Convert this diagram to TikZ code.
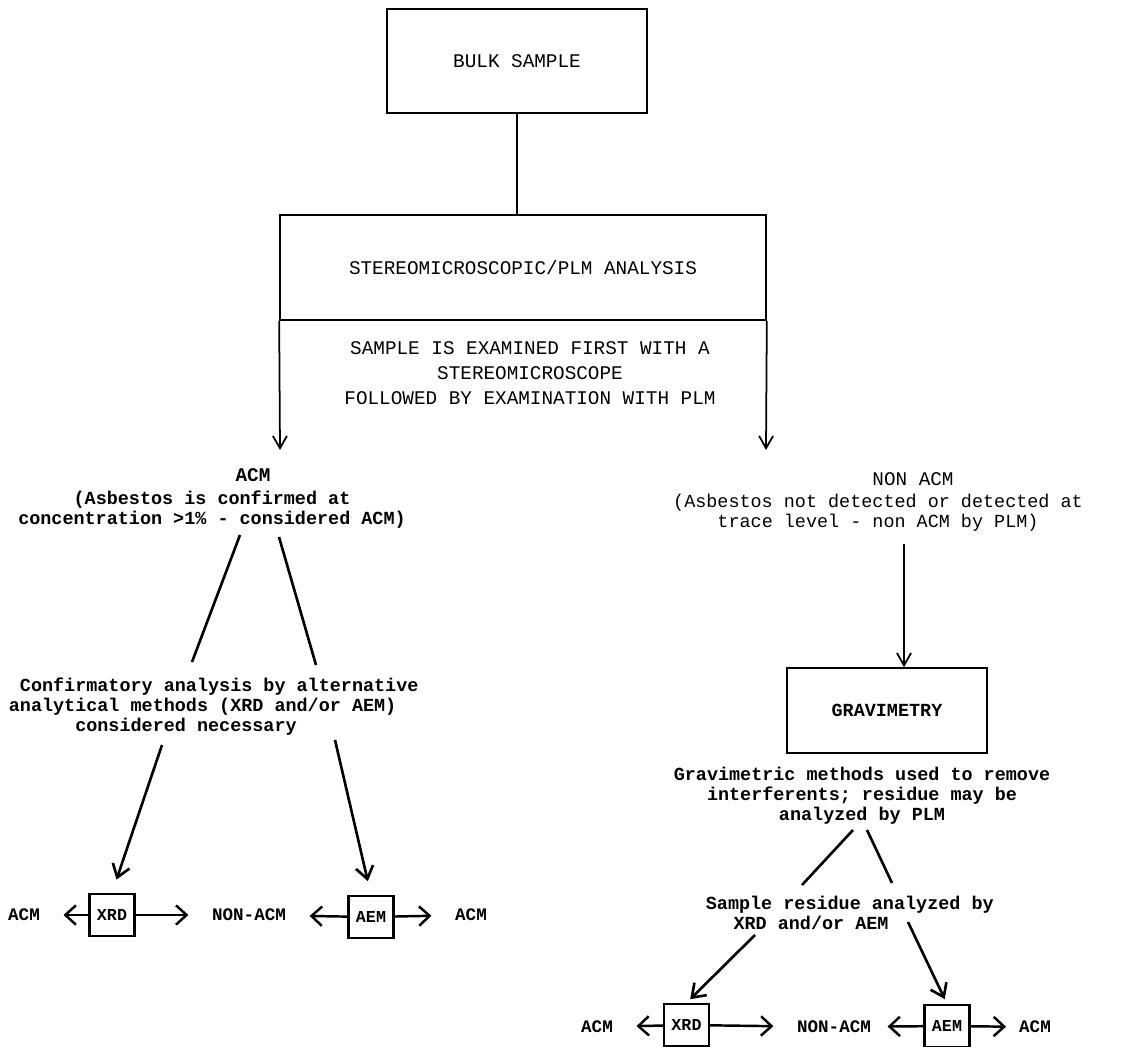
\documentclass[tikz,border=0pt]{standalone}
\usepackage{fontspec}
\setmonofont{Liberation Mono}
\usetikzlibrary{arrows.meta}

\begin{document}
\begin{tikzpicture}[x=0.02cm,y=-0.02cm,>={Straight Barb[length=7pt,width=8pt]},line width=1pt,
    main box/.style={rectangle,draw,inner sep=0pt,font=\ttfamily\fontsize{11}{14}\selectfont},
    small box/.style={rectangle,draw,inner sep=0pt,minimum width=0.9cm,minimum height=0.84cm,line width=1.3pt,font=\ttfamily\bfseries\fontsize{9.5}{11}\selectfont},
    plain/.style={inner sep=0pt,align=center,font=\ttfamily\fontsize{11}{14.2}\selectfont},
    note/.style={inner sep=0pt,align=center,font=\ttfamily\fontsize{10.5}{11.4}\selectfont},
    bold note/.style={note,font=\ttfamily\bfseries\fontsize{10.5}{11.4}\selectfont},
    result/.style={inner sep=0pt,font=\ttfamily\bfseries\fontsize{10}{12}\selectfont},
    heavy/.style={line width=1.5pt},
    down/.style={-{Straight Barb[length=7pt,width=10pt]},heavy},
    side/.style={-{Straight Barb[length=6pt,width=11pt]},line width=1.4pt,shorten >=13pt}]
    \useasboundingbox (0,0) rectangle (1147,1047);

    % top of the chart
    \node[main box,minimum width=5.2cm,minimum height=2.08cm] (bulk) at (517,61) {BULK SAMPLE};
    \node[main box,minimum width=9.72cm,minimum height=2.1cm] (plm) at (523,267.5) {STEREOMICROSCOPIC/PLM ANALYSIS};
    \node[plain] (exam) at (530,373) {SAMPLE IS EXAMINED FIRST WITH A\\STEREOMICROSCOPE\\FOLLOWED BY EXAMINATION WITH PLM};
    \coordinate (acmtip) at (280,450);
    \coordinate (nontip) at (766,450);
    \draw (bulk.south) -- (bulk.south |- plm.north);
    \draw[->] (plm.south west) -- (acmtip);
    \draw[->] (plm.south east) -- (nontip);

    % left branch
    \node[plain,font=\ttfamily\bfseries\fontsize{11}{13}\selectfont] (acm) at (253,475) {ACM};
    \node[bold note] (acmtxt) at (212,509.5) {(Asbestos is confirmed at\\concentration >1\% - considered ACM)};
    \node[bold note,anchor=west,align=left] (conf) at (8,707) {\hspace*{.6em}Confirmatory analysis by alternative\\analytical methods (XRD and/or AEM)\\\hspace*{3.6em}considered necessary};
    \coordinate (l1) at (240,535);
    \coordinate (l2) at (192,662);
    \coordinate (l3) at (279,537);
    \coordinate (l4) at (316,665);
    \coordinate (l5) at (162,745);
    \coordinate (l6) at (335,740);
    \draw[heavy] (l1) -- (l2);
    \draw[heavy] (l3) -- (l4);

    \node[result] (acmL1) at (24,915) {ACM};
    \node[small box] (xrdL) at (112,915) {XRD};
    \node[result] (nonL) at (249,915) {NON-ACM};
    \node[small box] (aemL) at (371,917) {AEM};
    \node[result] (acmL2) at (471,915) {ACM};
    \draw[down,shorten >=8pt] (l5) -- (xrdL.north);
    \draw[down,shorten >=8pt] (l6) -- (aemL.north);
    \draw[side] (xrdL) -- (acmL1);
    \draw[side] (xrdL) -- (nonL);
    \draw[side] (aemL) -- (nonL);
    \draw[side] (aemL) -- (acmL2);

    % right branch
    \node[plain] (nonacm) at (913,479) {NON ACM};
    \node[note] (nontxt) at (878,513) {(Asbestos not detected or detected at\\trace level - non ACM by PLM)};
    \node[main box,minimum width=4cm,minimum height=1.7cm,font=\ttfamily\bfseries\fontsize{10.5}{12}\selectfont] (grav) at (887,710.5) {GRAVIMETRY};
    \coordinate (r0) at (904,544);
    \draw[->] (r0) -- (r0 |- grav.north);
    \node[bold note] (gtxt) at (862,796) {Gravimetric methods used to remove\\interferents; residue may be\\analyzed by PLM};
    \node[bold note,anchor=west,align=left] (stxt) at (705,912.5) {Sample residue analyzed by\\\hspace*{1.5em}XRD and/or AEM};
    \coordinate (r1) at (853,830);
    \coordinate (r2) at (802,885);
    \coordinate (r3) at (867,830);
    \coordinate (r4) at (892,883);
    \coordinate (r5) at (755,935);
    \coordinate (r6) at (908,922);
    \draw[heavy] (r1) -- (r2);
    \draw[heavy] (r3) -- (r4);

    \node[result] (acmR1) at (597,1027) {ACM};
    \node[small box] (xrdR) at (686.5,1025) {XRD};
    \node[result] (nonR) at (834,1027) {NON-ACM};
    \node[small box] (aemR) at (947,1026) {AEM};
    \node[result] (acmR2) at (1035,1027) {ACM};
    \draw[down,shorten >=3pt] (r5) -- (xrdR.north);
    \draw[down,shorten >=3pt] (r6) -- (aemR.north);
    \draw[side] (xrdR) -- (acmR1);
    \draw[side] (xrdR) -- (nonR);
    \draw[side,shorten >=9pt] (aemR) -- (nonR);
    \draw[side,shorten >=7pt] (aemR) -- (acmR2);
\end{tikzpicture}
\end{document}
